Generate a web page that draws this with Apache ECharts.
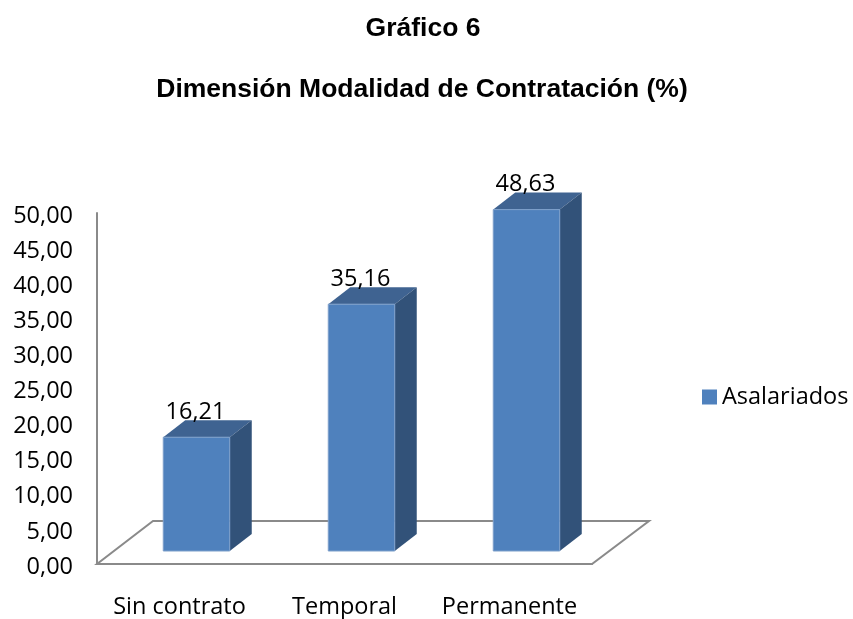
<!DOCTYPE html>
<html>
<head>
<meta charset="utf-8">
<title>Gráfico 6</title>
<script src="https://cdn.jsdelivr.net/npm/echarts@6/dist/echarts.min.js"></script>
<style>
  html, body { margin: 0; padding: 0; background: #fff; }
  #chart { width: 853px; height: 619px; }
</style>
</head>
<body>
<div id="chart"></div>
<script>
var categories = ['Sin contrato', 'Temporal', 'Permanente'];
var asalariados = [16.21, 35.16, 48.63];
var yTickLabels = ['0,00', '5,00', '10,00', '15,00', '20,00', '25,00', '30,00', '35,00', '40,00', '45,00', '50,00'];

var labelFont = '"Open Sans", Lato, sans-serif';
var labelSize = 23.5;
var axisColor = '#8a8a8a';

function fmt(v) {
  return v.toFixed(2).replace('.', ',');
}

// suelo en perspectiva detras de las barras
function renderFloor(params, api) {
  var g = params.coordSys;
  var bottom = g.y + g.height;
  return {
    type: 'polygon',
    shape: {
      points: [
        [g.x, bottom],
        [g.x + g.width, bottom],
        [g.x + g.width + 57, bottom - 43],
        [g.x + 56, bottom - 43]
      ]
    },
    style: { fill: '#fff', stroke: axisColor, lineWidth: 2 },
    silent: true
  };
}

// barra con cara frontal, superior y lateral
function renderBar(params, api) {
  var i = api.value(0);
  var v = api.value(1);
  var top = api.coord([i, v]);
  var base = api.coord([i, 0]);
  var band = api.size([1, 0])[0];
  var w = band * 0.403;
  var dx = 22, dy = 17;
  var left = top[0] + 17 - w / 2;
  var right = left + w;
  var y1 = top[1] - 13;
  var y0 = base[1] - 13;
  return {
    type: 'group',
    children: [
      {
        type: 'polygon',
        shape: { points: [[left, y1], [right, y1], [right + dx, y1 - dy], [left + dx, y1 - dy]] },
        style: { fill: '#3f6391' }
      },
      {
        type: 'polygon',
        shape: { points: [[right, y1], [right + dx, y1 - dy], [right + dx, y0 - dy], [right, y0]] },
        style: { fill: '#325279' }
      },
      {
        type: 'rect',
        shape: { x: left, y: y1, width: w, height: y0 - y1 },
        style: { fill: '#4f81bd', stroke: '#7d9fca', lineWidth: 1 }
      },
      {
        type: 'text',
        x: left + w / 2 - 1,
        y: y1 - 25,
        style: {
          text: fmt(v),
          fill: '#000',
          font: labelSize + 'px ' + labelFont,
          align: 'center',
          verticalAlign: 'middle'
        }
      }
    ]
  };
}

var myChart = echarts.init(document.getElementById('chart'), null, { renderer: 'canvas' });

myChart.setOption({
  animation: false,
  backgroundColor: '#fff',
  title: [
    {
      text: 'Gráfico 6',
      left: 418,
      top: 10,
      textAlign: 'center',
      textStyle: { fontFamily: 'Liberation Sans', fontWeight: 'bold', fontSize: 26.5, color: '#000' }
    },
    {
      text: 'Dimensión Modalidad de Contratación (%)',
      left: 417,
      top: 71,
      textAlign: 'center',
      textStyle: { fontFamily: 'Liberation Sans', fontWeight: 'bold', fontSize: 26.5, color: '#000' }
    }
  ],
  legend: {
    data: ['Asalariados'],
    left: 697,
    top: 380,
    icon: 'rect',
    itemWidth: 15,
    itemHeight: 15,
    itemGap: 8,
    textStyle: { fontFamily: labelFont, fontSize: labelSize, color: '#000' }
  },
  grid: { left: 97, top: 213, width: 495, height: 353, containLabel: false },
  xAxis: {
    type: 'category',
    data: categories,
    boundaryGap: true,
    axisLine: { lineStyle: { color: axisColor, width: 2 } },
    axisTick: { show: false },
    axisLabel: { interval: 0, margin: 31, fontFamily: labelFont, fontSize: labelSize, color: '#000' }
  },
  yAxis: {
    type: 'value',
    min: 0,
    max: 50,
    interval: 5,
    axisLine: { show: true, lineStyle: { color: axisColor, width: 2 } },
    axisTick: { show: false },
    splitLine: { show: false },
    axisLabel: {
      margin: 24,
      color: '#000',
      formatter: function (v) { return '{t|' + yTickLabels[v / 5] + '}'; },
      rich: {
        t: { fontFamily: labelFont, fontSize: labelSize, color: '#000', padding: [6, 0, 0, 0] }
      }
    }
  },
  series: [
    {
      name: 'suelo',
      type: 'custom',
      z: 1,
      silent: true,
      renderItem: renderFloor,
      data: [[0, 0]]
    },
    {
      name: 'Asalariados',
      type: 'custom',
      z: 3,
      itemStyle: { color: '#4f81bd' },
      renderItem: renderBar,
      encode: { x: 0, y: 1 },
      data: asalariados.map(function (v, i) { return [i, v]; })
    }
  ]
});
</script>
</body>
</html>
